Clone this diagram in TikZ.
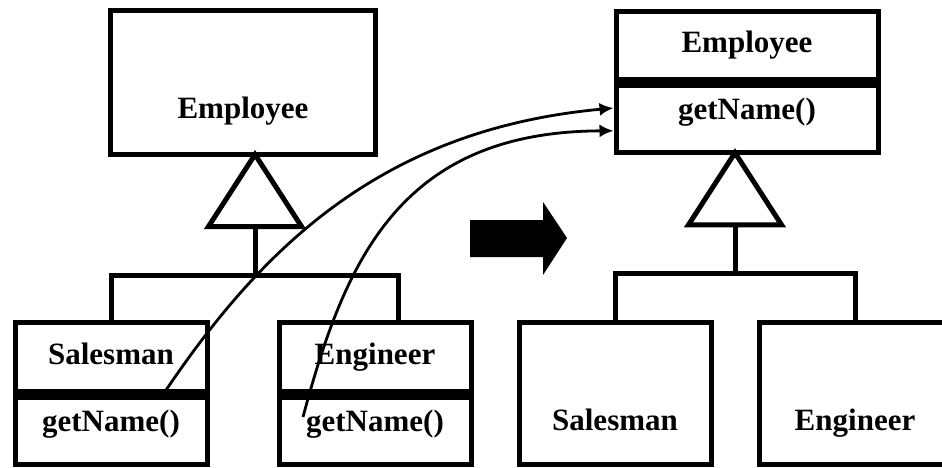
\documentclass[tikz,border=0pt]{standalone}
\usepackage{fontspec}
\setmainfont{Liberation Serif}
\usetikzlibrary{arrows.meta,positioning}

\begin{document}
\begin{tikzpicture}[
    x=1pt, y=1pt,
    node distance=0pt,
    >={Latex[length=14pt,width=13pt]},
    font=\bfseries\fontsize{31}{36}\selectfont,
    box/.style={
		rectangle,
		draw=black,
		line width=5pt,
		inner sep=0pt,
		outer sep=0pt,
		text centered,
		fill=white
	},
	namepart/.style={box, minimum height=72pt, text height=21pt, text depth=10pt},
	oppart/.style={box, minimum height=70pt, text height=21pt, text depth=17pt},
	single/.style={box, minimum width=192pt, minimum height=142pt, text height=73pt, text depth=0pt},
	gen/.style={draw, line width=5pt},
	divider/.style={line width=11pt},
	link/.style={->, line width=2.8pt, shorten >=2.5pt}
  ]
  \fill[white] (0,0) rectangle (942,-468);
  \useasboundingbox (0,0) rectangle (942,-468);

    % before: method in each subclass
  \node [box, minimum width=265pt, minimum height=144pt, text height=73pt, text depth=0pt] (emp1) at (243,-82.5) {Employee};
  \node [namepart, minimum width=192pt] (sal1) at (111,-358.6) {Salesman};
  \node [oppart, minimum width=192pt, below=of sal1] (sal1op) {getName()};
  \node [namepart, minimum width=192pt, right=72pt of sal1] (eng1) {Engineer};
  \node [oppart, minimum width=192pt, below=of eng1] (eng1op) {getName()};

    % after: method pulled up
  \node [namepart, minimum width=262pt, minimum height=71pt] (emp2) at (747,-47.3) {Employee};
  \node [oppart, minimum width=262pt, below=of emp2] (emp2op) {getName()};
  \node [single] (sal2) at (615,-393.5) {Salesman};
  \node [single, right=48pt of sal2] (eng2) {Engineer};

  \foreach \n in {sal1,eng1,emp2}
    \draw [divider] (\n.south west) -- (\n.south east);

  \coordinate (base1) at ([xshift=12pt,yshift=-72pt]emp1.south);
  \draw [gen] ([xshift=12pt]emp1.south) -- ([xshift=-46.5pt]base1) -- ([xshift=46.5pt]base1) -- cycle;
  \draw [gen] (base1) -- ++(0,-49) coordinate (bar1);
  \draw [gen] (sal1.north) |- (bar1) -| ([xshift=23.5pt]eng1.north);

  \coordinate (base2) at ([xshift=-12pt,yshift=-72pt]emp2op.south);
  \draw [gen] ([xshift=-12pt]emp2op.south) -- ([xshift=-46.5pt]base2) -- ([xshift=46.5pt]base2) -- cycle;
  \draw [gen] (base2) -- ++(0,-49) coordinate (bar2);
  \draw [gen] (sal2.north) |- (bar2) -| (eng2.north);

  \fill (470,-220) -- (543,-220) -- (543,-202) -- (567,-238) -- (543,-275) -- (543,-257) -- (470,-257) -- cycle;

  \coordinate (s1) at ([xshift=52pt]sal1.south);
  \coordinate (s2) at ([xshift=-72pt,yshift=12.6pt]eng1op.center);
  \draw [link] (s1) .. controls +(97,144.7) and +(-235.8,-21.8) .. ([yshift=10pt]emp2op.west);
  \draw [link] (s2) .. controls +(42,157) and +(-215.8,-0.8) .. ([yshift=-13pt]emp2op.west);

\end{tikzpicture}
\end{document}
